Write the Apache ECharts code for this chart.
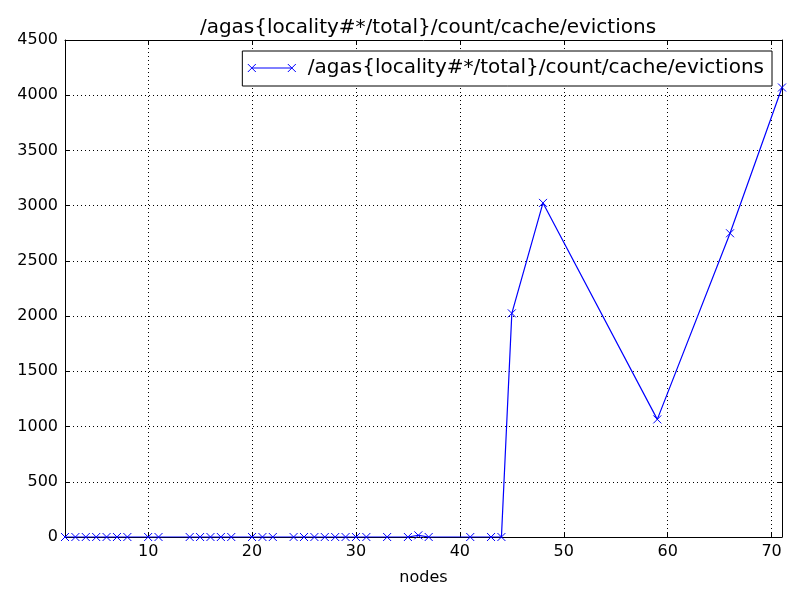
<!DOCTYPE html>
<html>
<head>
<meta charset="utf-8">
<script src="https://cdn.jsdelivr.net/npm/echarts@6/dist/echarts.min.js"></script>
<style>html,body{margin:0;padding:0;background:#fff}#c{width:800px;height:600px}</style>
</head>
<body>
<div id="c"></div>
<script>
const title = '/agas{locality#*/total}/count/cache/evictions';
const seriesName = '/agas{locality#*/total}/count/cache/evictions';
const xLabel = 'nodes';
const nodes = [2,3,4,5,6,7,8,10,11,14,15,16,17,18,20,21,22,24,25,26,27,28,29,30,31,33,35,36,37,41,43,44,45,48,59,66,71];
const evictions = [0,0,0,0,0,0,0,0,0,0,0,0,0,0,0,0,0,0,0,0,0,0,0,0,0,0,0,15,0,0,0,0,2025,3025,1065,2750,4070];
const xTicks = [10,20,30,40,50,60,70];
const yTicks = [0,500,1000,1500,2000,2500,3000,3500,4000,4500];

const FONT = 'DejaVu Sans';
const data = nodes.map((n, i) => [n, evictions[i]]);
const xMark = 'path://M0,0L10,10M0,10L10,0';
const legendIcon = 'path://M-4,1L4,9M-4,9L4,1M0,5L40,5M36,1L44,9M36,9L44,1';

const chart = echarts.init(document.getElementById('c'), null, {renderer: 'canvas'});
const axisCommon = {
  type: 'value',
  axisLine: {show: true, onZero: false, lineStyle: {color: '#000', width: 1}},
  axisTick: {show: true, inside: true, length: 5, lineStyle: {color: '#000'}},
  splitLine: {show: false}
};
chart.setOption({
  animation: false,
  backgroundColor: '#fff',
  title: {
    text: title, left: 423, top: 13, textAlign: 'center',
    textStyle: {fontFamily: FONT, fontSize: 20, fontWeight: 'normal', color: '#000'}
  },
  legend: {
    data: [{name: seriesName, icon: legendIcon}],
    right: 28, top: 51,
    itemWidth: 48, itemHeight: 8,
    padding: [7, 8, 8, 3],
    borderColor: '#000', borderWidth: 1, backgroundColor: '#fff',
    itemStyle: {color: 'none', borderColor: '#0000ff', borderWidth: 1},
    textStyle: {fontFamily: FONT, fontSize: 20, color: '#000', padding: [0, 0, 0, 7]}
  },
  grid: {left: 65, right: 18, top: 40, bottom: 63, containLabel: false},
  xAxis: [
    Object.assign({}, axisCommon, {
      position: 'bottom', min: 2, max: 71,
      name: xLabel, nameLocation: 'middle', nameGap: 33,
      nameTextStyle: {fontFamily: FONT, fontSize: 16, color: '#000'},
      axisTick: {show: true, inside: true, length: 5, lineStyle: {color: '#000'}, customValues: xTicks},
      axisLabel: {customValues: xTicks, fontFamily: FONT, fontSize: 16, color: '#000', margin: 7},
      splitLine: {show: true, lineStyle: {color: '#000', type: [1, 3], width: 1}}
    }),
    Object.assign({}, axisCommon, {
      position: 'top', min: 2, max: 71,
      axisTick: {show: true, inside: true, length: 5, lineStyle: {color: '#000'}, customValues: xTicks},
      axisLabel: {show: false, customValues: xTicks}
    })
  ],
  yAxis: [
    Object.assign({}, axisCommon, {
      position: 'left', min: 0, max: 4500, interval: 500,
      axisLabel: {fontFamily: FONT, fontSize: 16, color: '#000', margin: 7, formatter: v => String(v)},
      splitLine: {show: true, lineStyle: {color: '#000', type: [1, 3], width: 1}}
    }),
    Object.assign({}, axisCommon, {
      position: 'right', min: 0, max: 4500, interval: 500,
      axisLabel: {show: false}
    })
  ],
  series: [{
    name: seriesName,
    type: 'line',
    data: data,
    xAxisIndex: 0, yAxisIndex: 0,
    symbol: xMark, symbolSize: 8, showAllSymbol: true,
    clip: true,
    lineStyle: {color: '#0000ff', width: 1.2},
    itemStyle: {color: 'none', borderColor: '#0000ff', borderWidth: 1},
    emphasis: {disabled: true}
  }]
});
</script>
</body>
</html>
